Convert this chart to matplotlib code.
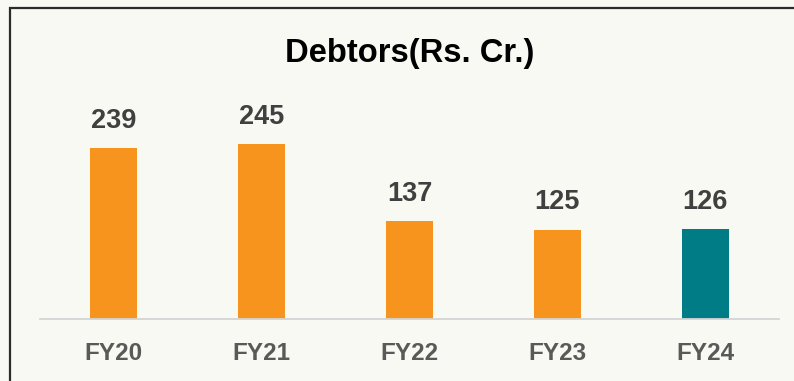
import matplotlib.pyplot as plt
from matplotlib.patches import Rectangle

# Debtors by fiscal year, Rs. crore
years = ["FY20", "FY21", "FY22", "FY23", "FY24"]
debtors = [239, 245, 137, 125, 126]
bar_colors = ["#F7941E", "#F7941E", "#F7941E", "#F7941E", "#007C86"]

plt.rcParams["font.family"] = ["Liberation Sans", "DejaVu Sans"]

bg = "#F9F9F3"
W, H = 794, 381
fig = plt.figure(figsize=(W / 100, H / 100), dpi=100, facecolor=bg)

# frame around the panel (left and top edges visible)
fig.patches.append(Rectangle((10 / W, -0.1), 1.2, (H - 8) / H + 0.1,
                             transform=fig.transFigure, fill=False,
                             edgecolor="#2b2b2b", linewidth=1.6))

ax = fig.add_axes([40 / W, 62 / H, 739 / W, 279 / H])
ax.set_facecolor(bg)

x = range(len(years))
ax.bar(x, debtors, width=0.318, color=bar_colors, zorder=2)
ax.set_xlim(-0.5, len(years) - 0.5)
ax.set_ylim(0, 279 / 0.7155)

for i, v in zip(x, debtors):
    ax.annotate(str(v), (i, v), xytext=(0, 14.5), textcoords="offset points",
                ha="center", va="baseline", fontsize=19.5, fontweight="bold",
                color="#404040")

ax.set_xticks(list(x))
ax.set_xticklabels(years, fontsize=17.5, fontweight="bold", color="#595959")
ax.tick_params(axis="x", length=0, pad=16.5)
ax.set_yticks([])
for side in ["top", "right", "left"]:
    ax.spines[side].set_visible(False)
ax.spines["bottom"].set_color("#D4D4D4")
ax.spines["bottom"].set_linewidth(1.3)

fig.text(410 / W, 1 - 62 / H, "Debtors(Rs. Cr.)", ha="center", va="baseline",
         fontsize=23.6, fontweight="bold", color="black")

fig.savefig("out.png", dpi=100, facecolor=bg)
